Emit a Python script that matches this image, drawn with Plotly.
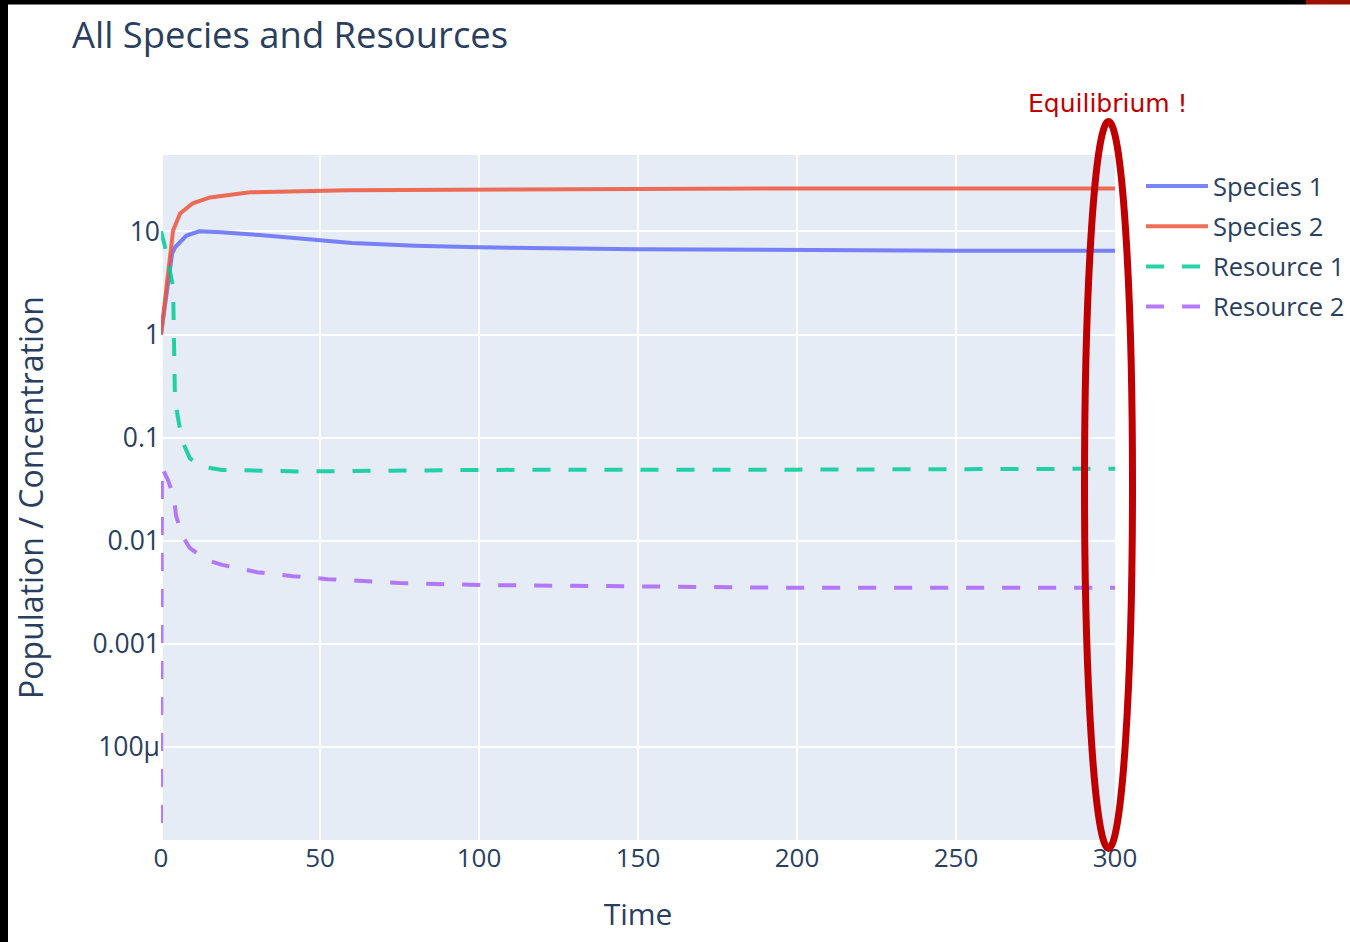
import plotly.graph_objects as go

# ---- simulated trajectories (time, value) ----
species1_t = [0, 3.5, 4.5, 8, 12, 19, 31, 45, 60, 80, 100, 150, 200, 250, 300]
species1_v = [1.0, 6.1, 7.05, 9.1, 10.0, 9.8, 9.2, 8.4, 7.7, 7.25, 7.0, 6.7, 6.55, 6.5, 6.5]

species2_t = [0, 3.8, 6, 10, 15.4, 28, 59, 100, 150, 200, 300]
species2_v = [1.0, 10.2, 14.9, 18.7, 21.3, 23.9, 25.0, 25.5, 25.8, 26.0, 26.0]

resource1_t = [0, 1.3, 3.8, 4.2, 4.4, 6.6, 9.1, 13.2, 19.2, 43.7, 100, 200, 300]
resource1_v = [10.0, 7.0, 2.9, 0.8, 0.23, 0.094, 0.063, 0.052, 0.0487, 0.047, 0.0487, 0.049, 0.050]

resource2_t = [0, 0.3, 2.2, 4.1, 4.7, 6.6, 9.1, 14.5, 19.2, 30.2, 41.5, 52.5, 75, 100, 150, 200, 300]
resource2_v = [1.84e-5, 0.0515, 0.0387, 0.0264, 0.0177, 0.0113, 0.00848, 0.00649, 0.00585,
               0.00497, 0.00454, 0.00425, 0.0039, 0.00373, 0.00362, 0.0035, 0.0035]

series = [
    ("Species 1", species1_t, species1_v, "#636efa", "solid"),
    ("Species 2", species2_t, species2_v, "#EF553B", "solid"),
    ("Resource 1", resource1_t, resource1_v, "#00cc96", "18px,18px"),
    ("Resource 2", resource2_t, resource2_v, "#ab63fa", "18px,18px"),
]

W, H = 1350, 942
L, R, T, B = 161, 235, 155, 102
PW, PH = W - L - R, H - T - B


def px_x(p):
    return (p - L) / PW


def px_y(p):
    return (H - B - p) / PH


fig = go.Figure()
for name, t, v, color, dash in series:
    fig.add_trace(go.Scatter(
        x=t, y=v, mode="lines", name=name, legendgroup=name,
        line=dict(color=color, width=4, dash=dash), opacity=0.85,
    ))

font_color = "#2a3f5f"
fig.update_layout(
    width=W, height=H,
    margin=dict(l=L, r=R, t=T, b=B, autoexpand=False),
    paper_bgcolor="white",
    plot_bgcolor="#E5ECF6",
    font=dict(family="Open Sans, verdana, arial, sans-serif", color=font_color, size=26),
    title=dict(
        text="All Species and Resources",
        font=dict(size=36.4, color=font_color),
        x=72 / W, xanchor="left", xref="container",
        y=1 - 35 / H, yanchor="middle", yref="container",
    ),
    legend=dict(
        x=px_x(1141), y=px_y(163), xanchor="left", yanchor="top",
        font=dict(size=25.5, color=font_color),
        itemwidth=62, tracegroupgap=4,
        bgcolor="rgba(0,0,0,0)",
    ),
    showlegend=True,
)

fig.update_xaxes(
    title=dict(text="Time", font=dict(size=30), standoff=29),
    range=[0, 300], tickvals=[0, 50, 100, 150, 200, 250, 300],
    gridcolor="white", gridwidth=2,
    zeroline=True, zerolinecolor="white", zerolinewidth=4,
    showline=False, ticks="", automargin=False,
    tickfont=dict(size=26),
)
fig.update_yaxes(
    type="log",
    title=dict(text="Population / Concentration", font=dict(size=32), standoff=39),
    range=[-4.9, 1.74],
    tickvals=[1e-4, 1e-3, 1e-2, 1e-1, 1, 10],
    ticktext=["100µ", "0.001", "0.01", "0.1", "1", "10"],
    gridcolor="white", gridwidth=2,
    showline=False, ticks="", automargin=False,
    tickfont=dict(size=26.5),
)

red = "#c00000"
fig.add_annotation(
    text="Equilibrium !", xref="paper", yref="paper",
    x=px_x(1108), y=px_y(104), xanchor="center", yanchor="middle",
    showarrow=False, font=dict(family="DejaVu Sans", size=25, color=red),
)
# ellipse around the steady-state end of the run
fig.add_shape(
    type="circle", xref="paper", yref="paper",
    x0=px_x(1084.5), x1=px_x(1132.5), y0=px_y(848.5), y1=px_y(121.5),
    line=dict(color=red, width=7), layer="above",
)
# dark frame edges
fig.add_shape(type="rect", xref="paper", yref="paper",
              x0=px_x(0), x1=px_x(8), y0=px_y(H), y1=px_y(0),
              fillcolor="black", line_width=0, layer="above")
fig.add_shape(type="rect", xref="paper", yref="paper",
              x0=px_x(0), x1=px_x(1306), y0=px_y(4.5), y1=px_y(0),
              fillcolor="black", line_width=0, layer="above")
fig.add_shape(type="rect", xref="paper", yref="paper",
              x0=px_x(1306), x1=px_x(W), y0=px_y(4.5), y1=px_y(0),
              fillcolor="#9b1000", line_width=0, layer="above")

fig.write_html("out.html")
